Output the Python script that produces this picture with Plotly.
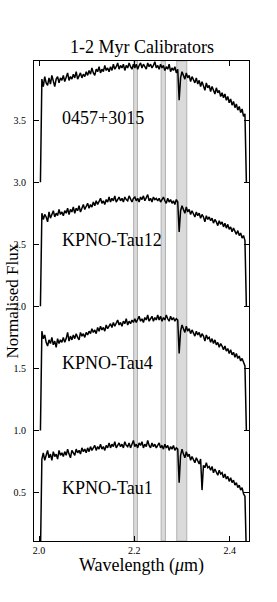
import plotly.graph_objects as go

# wavelength grid (micron): start and step of the sampled spectra
wl_start = 2.003
wl_step = 0.003

names = ["0457+3015", "KPNO-Tau12", "KPNO-Tau4", "KPNO-Tau1"]
offsets = [3.0, 2.0, 1.0, 0.0]

flux_0457 = [0.0,
    0.83, 0.77, 0.85, 0.80, 0.78, 0.84, 0.79, 0.86, 0.81, 0.77, 0.83, 0.85, 0.80, 0.84, 0.82,
    0.86, 0.81, 0.84, 0.88, 0.82, 0.85, 0.83, 0.87, 0.84, 0.89, 0.83, 0.86, 0.88, 0.84, 0.87, 0.85, 0.89,
    0.86, 0.90, 0.87, 0.92, 0.88, 0.86, 0.91, 0.89, 0.93, 0.88, 0.91, 0.89, 0.94, 0.90, 0.92, 0.89,
    0.93, 0.90, 0.95, 0.91, 0.93, 0.96, 0.91, 0.94, 0.92, 0.95, 0.90, 0.94, 0.92, 0.96, 0.93, 0.91, 0.95,
    0.92, 0.95, 0.91, 0.94, 0.96, 0.92, 0.95, 0.93, 0.91, 0.96, 0.93, 0.95, 0.92, 0.94, 0.97, 0.92, 0.94,
    0.91, 0.95, 0.92, 0.94, 0.90, 0.93, 0.91, 0.95, 0.89, 0.92, 0.90, 0.93, 0.88, 0.91,
    0.66,
    0.84, 0.89, 0.86, 0.83, 0.88, 0.84, 0.86, 0.81, 0.85, 0.82,
    0.80, 0.84, 0.79, 0.82, 0.77, 0.81, 0.78, 0.74, 0.80, 0.76,
    0.78, 0.73, 0.77, 0.74, 0.71, 0.76, 0.72, 0.74, 0.69, 0.72,
    0.68, 0.71, 0.66, 0.69, 0.64, 0.67, 0.62, 0.65, 0.60, 0.63,
    0.58, 0.61, 0.56, 0.59, 0.53, 0.55,
    0.0]

flux_tau12 = [0.0,
    0.75, 0.70, 0.74, 0.72, 0.68, 0.76, 0.71, 0.74, 0.77, 0.72, 0.75, 0.73, 0.78, 0.74, 0.76,
    0.73, 0.77, 0.75, 0.79, 0.74, 0.78, 0.76, 0.80, 0.75, 0.79, 0.77, 0.81, 0.76, 0.79, 0.82, 0.78, 0.80,
    0.83, 0.79, 0.82, 0.80, 0.84, 0.81, 0.85, 0.82, 0.84, 0.87, 0.83, 0.85, 0.82, 0.86, 0.84, 0.88,
    0.84, 0.87, 0.85, 0.89, 0.84, 0.86, 0.88, 0.85, 0.87, 0.84, 0.88, 0.86, 0.85, 0.89, 0.86, 0.84, 0.87,
    0.88, 0.85, 0.87, 0.84, 0.88, 0.86, 0.89, 0.85, 0.87, 0.90, 0.85, 0.87, 0.84, 0.88, 0.86, 0.87, 0.85,
    0.87, 0.84, 0.86, 0.88, 0.85, 0.83, 0.87, 0.84, 0.86, 0.83, 0.85, 0.82, 0.86, 0.84,
    0.60,
    0.77, 0.81, 0.78, 0.75, 0.80, 0.76, 0.78, 0.74, 0.77, 0.75,
    0.72, 0.76, 0.73, 0.75, 0.71, 0.74, 0.72, 0.68, 0.73, 0.70,
    0.72, 0.69, 0.71, 0.67, 0.70, 0.68, 0.65, 0.69, 0.66, 0.68,
    0.64, 0.67, 0.63, 0.66, 0.62, 0.64, 0.60, 0.63, 0.61, 0.58,
    0.61, 0.57, 0.59, 0.55, 0.57, 0.53,
    0.0]

flux_tau4 = [0.0,
    0.80, 0.74, 0.77, 0.71, 0.68, 0.73, 0.70, 0.75, 0.69, 0.72, 0.67, 0.74, 0.70, 0.73, 0.71,
    0.75, 0.71, 0.74, 0.79, 0.72, 0.76, 0.73, 0.77, 0.74, 0.78, 0.75, 0.73, 0.79, 0.76, 0.78, 0.75, 0.79,
    0.77, 0.80, 0.78, 0.82, 0.79, 0.81, 0.78, 0.83, 0.80, 0.84, 0.81, 0.83, 0.80, 0.85, 0.82, 0.84,
    0.86, 0.83, 0.87, 0.84, 0.86, 0.89, 0.85, 0.87, 0.84, 0.88, 0.86, 0.90, 0.85, 0.88, 0.86, 0.89, 0.87,
    0.90, 0.87, 0.89, 0.92, 0.88, 0.90, 0.87, 0.91, 0.89, 0.93, 0.88, 0.90, 0.92, 0.88, 0.91, 0.89, 0.93,
    0.89, 0.92, 0.88, 0.91, 0.89, 0.93, 0.90, 0.88, 0.92, 0.89, 0.91, 0.88, 0.90, 0.89,
    0.62,
    0.80, 0.85, 0.82, 0.79, 0.84, 0.80, 0.82, 0.78, 0.81, 0.79,
    0.76, 0.80, 0.77, 0.79, 0.75, 0.78, 0.76, 0.72, 0.77, 0.74,
    0.75, 0.71, 0.74, 0.70, 0.73, 0.69, 0.71, 0.67, 0.70, 0.68,
    0.65, 0.68, 0.64, 0.66, 0.62, 0.65, 0.61, 0.63, 0.59, 0.62,
    0.58, 0.60, 0.56, 0.58, 0.54, 0.52,
    0.0]

flux_tau1 = [0.0,
    0.77, 0.82, 0.76, 0.80, 0.84, 0.78, 0.81, 0.76, 0.83, 0.79, 0.81, 0.77, 0.84, 0.80, 0.82,
    0.79, 0.83, 0.80, 0.85, 0.81, 0.78, 0.84, 0.82, 0.80, 0.85, 0.82, 0.84, 0.81, 0.86, 0.83, 0.85, 0.82,
    0.86, 0.83, 0.87, 0.84, 0.86, 0.88, 0.84, 0.87, 0.85, 0.89, 0.85, 0.87, 0.84, 0.88, 0.86, 0.90,
    0.86, 0.89, 0.87, 0.91, 0.86, 0.88, 0.90, 0.87, 0.89, 0.86, 0.91, 0.88, 0.87, 0.90, 0.86, 0.89, 0.92,
    0.87, 0.89, 0.86, 0.90, 0.88, 0.91, 0.86, 0.89, 0.87, 0.92, 0.88, 0.86, 0.90, 0.87, 0.89, 0.86, 0.88,
    0.90, 0.86, 0.88, 0.85, 0.89, 0.86, 0.88, 0.84, 0.87, 0.85, 0.88, 0.84, 0.86, 0.85,
    0.58,
    0.80, 0.85, 0.81, 0.78, 0.83, 0.79, 0.81, 0.76, 0.79, 0.77,
    0.74, 0.78, 0.75, 0.73, 0.77, 0.52, 0.72, 0.70, 0.74, 0.70,
    0.71, 0.68, 0.71, 0.66, 0.69, 0.67, 0.64, 0.68, 0.65, 0.66,
    0.62, 0.65, 0.61, 0.63, 0.59, 0.62, 0.58, 0.60, 0.56, 0.58,
    0.54, 0.56, 0.52, 0.54, 0.49, 0.47,
    0.0]

spectra = [flux_0457, flux_tau12, flux_tau4, flux_tau1]
label_y = [3.52, 2.535, 1.54, 0.535]
label_x = 2.043

# shaded feature windows (micron)
band_lo = [2.1985, 2.2562, 2.2890]
band_hi = [2.2065, 2.2652, 2.3100]

x_ticks = [2.0, 2.2, 2.4]
y_ticks = [0.5, 1.0, 1.5, 2.0, 2.5, 3.0, 3.5]

SERIF = "Liberation Serif"

fig = go.Figure()
for name, flux, off in zip(names, spectra, offsets):
    wl = [wl_start + wl_step * i for i in range(len(flux))]
    fig.add_trace(go.Scatter(x=wl, y=[f + off for f in flux], mode="lines",
                             line=dict(color="black", width=1.5), name=name,
                             showlegend=False, hoverinfo="skip"))

for lo, hi in zip(band_lo, band_hi):
    fig.add_shape(type="rect", xref="x", yref="paper", x0=lo, x1=hi, y0=0, y1=1,
                  fillcolor="#dadada", line=dict(color="#b0b0b0", width=1),
                  layer="below")

for name, ly in zip(names, label_y):
    fig.add_annotation(x=label_x, y=ly, text=name, showarrow=False,
                       xanchor="left", yanchor="middle",
                       font=dict(family=SERIF, size=18, color="black"))

fig.add_annotation(xref="paper", yref="paper", x=0.5, y=1, yshift=2,
                   text="1-2 Myr Calibrators", showarrow=False,
                   xanchor="center", yanchor="bottom",
                   font=dict(family=SERIF, size=18, color="black"))
fig.add_annotation(xref="paper", yref="paper", x=0.5, y=0, yshift=-12,
                   text="Wavelength (<i>μ</i>m)", showarrow=False,
                   xanchor="center", yanchor="top",
                   font=dict(family=SERIF, size=18, color="black"))
fig.add_annotation(xref="paper", yref="paper", x=0, y=0.5, xshift=-34,
                   text="Normalised Flux", showarrow=False, textangle=-90,
                   xanchor="left", yanchor="middle",
                   font=dict(family=SERIF, size=17, color="black"))

axis_common = dict(showline=True, linecolor="black", linewidth=1, mirror="ticks",
                   ticks="inside", ticklen=5, tickcolor="black", tickwidth=1,
                   showgrid=False, zeroline=False, automargin=False,
                   tickfont=dict(family=SERIF, size=10, color="black"))

fig.update_xaxes(range=[1.9895, 2.4405], tickvals=x_ticks,
                 ticktext=[f"{v:.1f}" for v in x_ticks], **axis_common)
fig.update_yaxes(range=[0.11, 3.976], tickvals=y_ticks,
                 ticktext=[f"{v:.1f}" for v in y_ticks], ticklabelstandoff=5,
                 **axis_common)

fig.update_layout(width=277, height=602, margin=dict(l=34, r=28, t=61, b=61),
                  plot_bgcolor="white", paper_bgcolor="white",
                  font=dict(family=SERIF, color="black"))

# remove the browser's default 8 px page margin so the figure fills the window
fig.write_html("out.html", config={"displayModeBar": False},
               post_script="document.body.style.margin='0px';")
